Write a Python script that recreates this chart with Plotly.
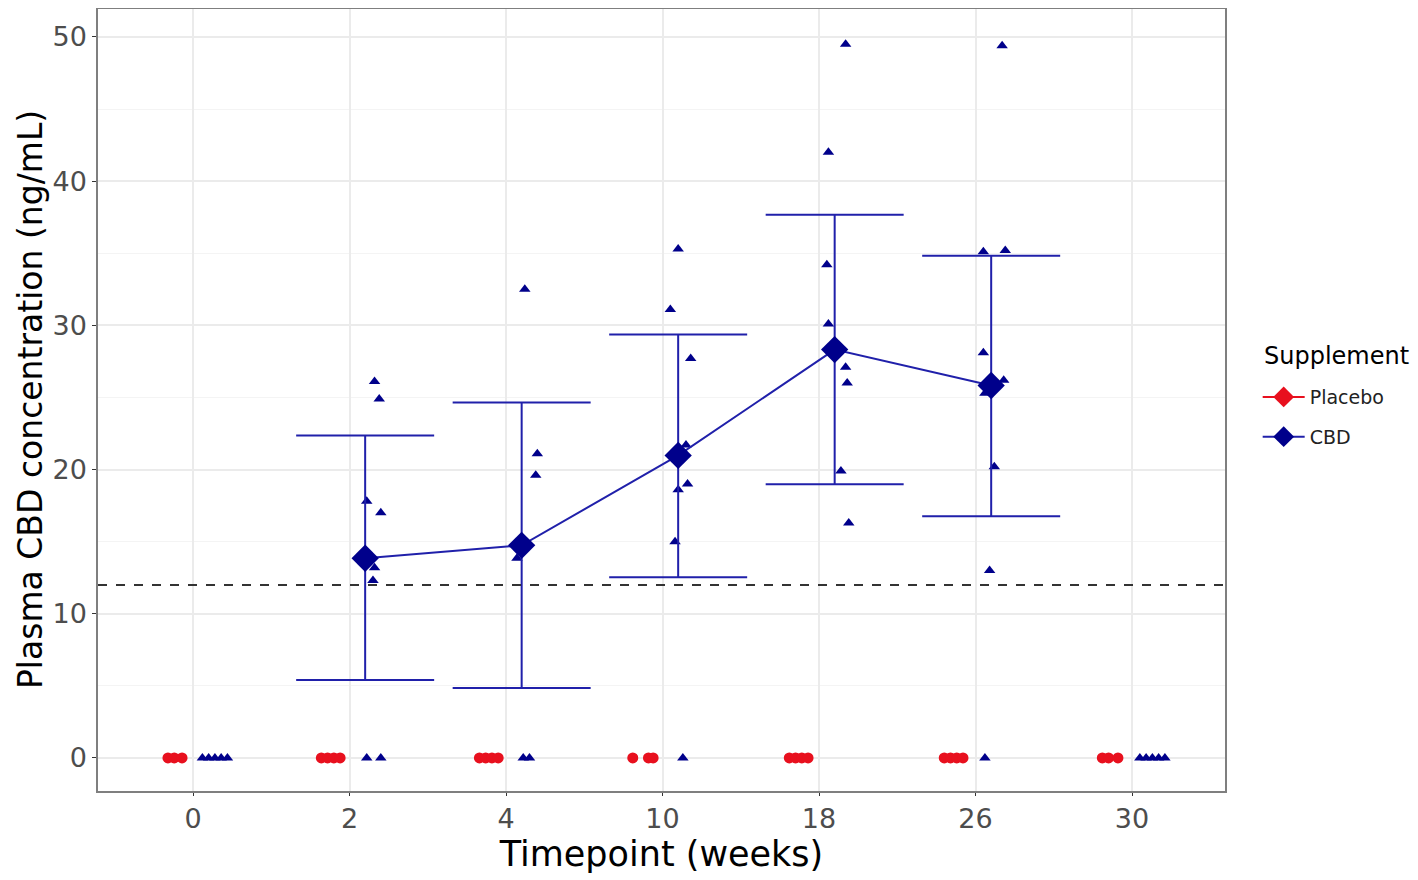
import plotly.graph_objects as go

# timepoints (weeks) shown as categories on the x axis
timepoints = ["0", "2", "4", "10", "18", "26", "30"]

# CBD group summary (mean with error bar limits)
cbd_mean = [None, 13.85, 14.75, 20.98, 28.32, 25.83, None]
cbd_upper = [None, 22.37, 24.65, 29.36, 37.67, 34.83, None]
cbd_lower = [None, 5.40, 4.85, 12.53, 18.98, 16.76, None]

# lower limit of quantification (dashed line)
lloq = 12

# individual CBD values per timepoint index, with their jitter offsets
cbd_tp = [0, 0, 0, 0, 0,
          1, 1, 1, 1, 1, 1, 1, 1,
          2, 2, 2, 2, 2, 2,
          3, 3, 3, 3, 3, 3, 3, 3,
          4, 4, 4, 4, 4, 4, 4, 4,
          5, 5, 5, 5, 5, 5, 5, 5, 5,
          6, 6, 6, 6, 6]
cbd_val = [0, 0, 0, 0, 0,
           26.1, 24.9, 17.8, 17.0, 13.2, 12.3, 0, 0,
           32.5, 21.1, 19.6, 13.85, 0, 0,
           35.3, 31.1, 27.7, 21.7, 19.0, 18.6, 15.0, 0,
           49.5, 42.0, 34.2, 30.1, 27.1, 26.0, 19.9, 16.3,
           49.4, 35.1, 35.2, 28.1, 26.2, 25.3, 20.2, 13.0, 0,
           0, 0, 0, 0, 0]
cbd_jit = [0.06, 0.10, 0.14, 0.18, 0.22,
           0.16, 0.19, 0.11, 0.20, 0.16, 0.15, 0.11, 0.20,
           0.12, 0.20, 0.19, 0.07, 0.11, 0.15,
           0.10, 0.05, 0.18, 0.15, 0.16, 0.10, 0.08, 0.13,
           0.17, 0.06, 0.05, 0.06, 0.17, 0.18, 0.14, 0.19,
           0.17, 0.05, 0.19, 0.05, 0.18, 0.06, 0.12, 0.09, 0.06,
           0.05, 0.09, 0.13, 0.17, 0.21]

# individual placebo values (all zero) with jitter offsets
pla_tp = [0, 0, 0, 1, 1, 1, 1, 2, 2, 2, 2, 3, 3, 3,
          4, 4, 4, 4, 5, 5, 5, 5, 6, 6, 6]
pla_val = [0] * len(pla_tp)
pla_jit = [-0.16, -0.12, -0.07, -0.18, -0.14, -0.10, -0.06,
           -0.17, -0.13, -0.09, -0.05, -0.19, -0.09, -0.06,
           -0.19, -0.15, -0.11, -0.07, -0.20, -0.16, -0.12, -0.08,
           -0.19, -0.15, -0.09]

RED = "#e8101e"
BLUE = "#00008b"
LINE_BLUE = "#2020aa"
dodge = 0.1

fig = go.Figure()

# individual points
fig.add_trace(go.Scatter(
    x=[t + j for t, j in zip(pla_tp, pla_jit)], y=pla_val,
    mode="markers", marker=dict(symbol="circle", size=11, color=RED),
    showlegend=False, hoverinfo="skip"))
fig.add_trace(go.Scatter(
    x=[t + j for t, j in zip(cbd_tp, cbd_jit)], y=cbd_val,
    mode="markers", marker=dict(symbol="triangle-up", size=10, color=BLUE),
    showlegend=False, hoverinfo="skip"))

# CBD means with error bars
idx = [i for i, m in enumerate(cbd_mean) if m is not None]
means = [cbd_mean[i] for i in idx]
fig.add_trace(go.Scatter(
    x=[i + dodge for i in idx], y=means,
    mode="lines+markers",
    line=dict(color=LINE_BLUE, width=2),
    marker=dict(symbol="diamond", size=21, color=BLUE),
    error_y=dict(type="data", symmetric=False,
                 array=[cbd_upper[i] - cbd_mean[i] for i in idx],
                 arrayminus=[cbd_mean[i] - cbd_lower[i] for i in idx],
                 color=LINE_BLUE, thickness=2, width=69),
    name="CBD", legendrank=2, legendgroup="cbd"))

# legend entry for placebo
fig.add_trace(go.Scatter(
    x=[None], y=[None], mode="lines+markers",
    line=dict(color=RED, width=2),
    marker=dict(symbol="diamond", size=21, color=RED),
    name="Placebo", legendrank=1, legendgroup="placebo"))

fig.add_hline(y=lloq, line=dict(color="#333333", width=2, dash="dash"))

# legend title drawn as text so the gap to the keys matches
fig.add_annotation(text="Supplement", xref="paper", yref="paper",
                   x=1.0328, y=0.556, xanchor="left", yanchor="middle",
                   showarrow=False, font=dict(size=24, color="black"))
# y axis title placed by hand (standoff is ignored without automargin)
fig.add_annotation(text="Plasma CBD concentration (ng/mL)", xref="paper", yref="paper",
                   x=-0.0603, y=0.5, xanchor="center", yanchor="middle",
                   textangle=-90, showarrow=False, font=dict(size=33, color="black"))

fig.update_layout(
    width=1410, height=873,
    margin=dict(l=90, r=193, t=1, b=90),
    paper_bgcolor="white", plot_bgcolor="white",
    font=dict(family="DejaVu Sans", color="black"),
    legend=dict(
        font=dict(size=19, color="#222222"),
        x=1.029, xanchor="left", y=0.528, yanchor="top",
        itemwidth=42, tracegroupgap=12),
    xaxis=dict(
        range=[-0.607, 6.594], automargin=False,
        tickmode="array", tickvals=list(range(len(timepoints))), ticktext=timepoints,
        title=dict(text="Timepoint (weeks)", font=dict(size=35), standoff=2),
        tickfont=dict(size=27, color="#4d4d4d"),
        showgrid=True, gridcolor="#ebebeb", gridwidth=1.5,
        ticks="outside", ticklen=3, tickcolor="#333333",
        showline=True, linecolor="#7f7f7f", linewidth=1.5, mirror=True,
        zeroline=False),
    yaxis=dict(
        range=[-2.29, 51.94], automargin=False,
        tickvals=[0, 10, 20, 30, 40, 50],
        tickfont=dict(size=27, color="#4d4d4d"),
        showgrid=True, gridcolor="#ebebeb", gridwidth=1.5,
        minor=dict(dtick=5, tick0=5, showgrid=True, gridcolor="#f4f4f4", gridwidth=1),
        ticks="outside", ticklen=4, tickcolor="#333333",
        showline=True, linecolor="#7f7f7f", linewidth=1.5, mirror=True,
        zeroline=False),
)

fig.write_html("out.html")
